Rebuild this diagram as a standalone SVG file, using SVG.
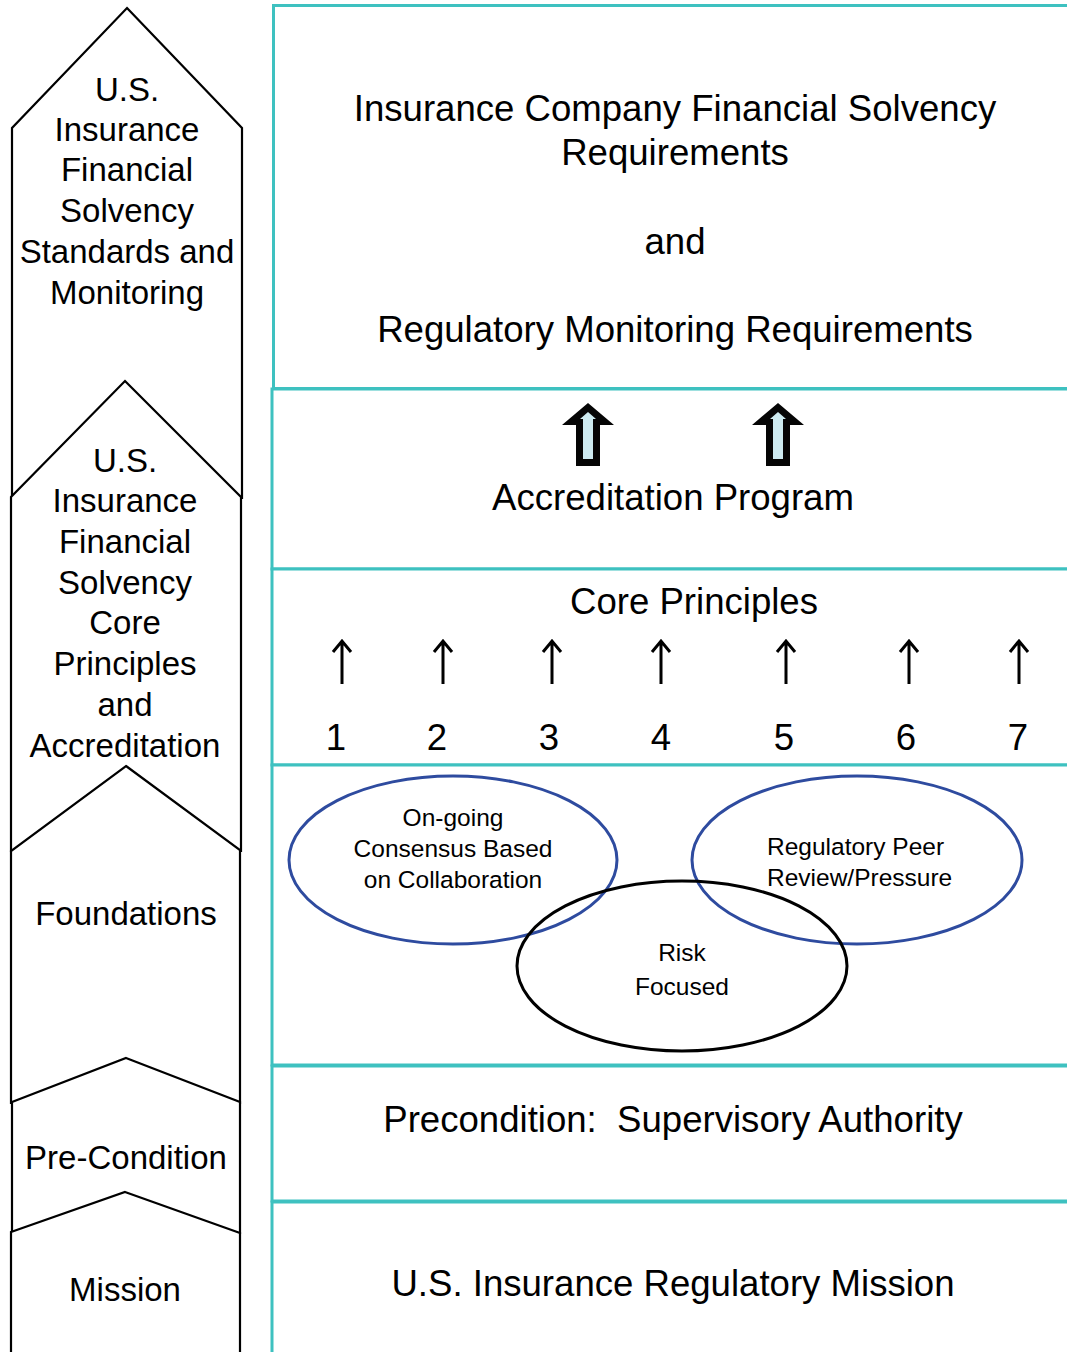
<svg xmlns="http://www.w3.org/2000/svg" width="1067" height="1352" viewBox="0 0 1067 1352">
<style>
.box{fill:#fff;stroke:#3EC1C0;stroke-width:3}
.chev{fill:#fff;stroke:#000;stroke-width:2.2;stroke-linejoin:miter}
.lt{font-family:"Liberation Sans",Arial,sans-serif;font-size:33px;fill:#000;text-anchor:middle}
.rt{font-family:"Liberation Sans",Arial,sans-serif;font-size:36.6px;fill:#000;text-anchor:middle;white-space:pre}
.et{font-family:"Liberation Sans",Arial,sans-serif;font-size:24.5px;fill:#000;text-anchor:middle}
.es{font-family:"Liberation Sans",Arial,sans-serif;font-size:24.5px;fill:#000;text-anchor:start}
.up{fill:none;stroke:#000;stroke-width:3}
.blue{fill:none;stroke:#2E4B9F;stroke-width:3}
.blk{fill:none;stroke:#000;stroke-width:3}
</style>
<rect width="1067" height="1352" fill="#fff"/>
<g id="right-panels">
<g id="box-requirements"><rect class="box" x="273.5" y="5.5" width="900" height="383"/>
<text class="rt" x="675" y="121">Insurance Company Financial Solvency</text>
<text class="rt" x="675" y="165">Requirements</text>
<text class="rt" x="675" y="254">and</text>
<text class="rt" x="675" y="342">Regulatory Monitoring Requirements</text></g>
<g id="box-accreditation"><rect class="box" x="272" y="389" width="900" height="180"/>
<path d="M588,403 L614,425 L600,425 L600,466 L576,466 L576,425 L562,425 Z" fill="#050505"/>
<path d="M588,412 L596,419 L593,419 L593,459 L583,459 L583,419 L580,419 Z" fill="#CDEAF0"/>
<path d="M778,403 L804,425 L790,425 L790,466 L766,466 L766,425 L752,425 Z" fill="#050505"/>
<path d="M778,412 L786,419 L783,419 L783,459 L773,459 L773,419 L770,419 Z" fill="#CDEAF0"/>
<text class="rt" x="673" y="510">Accreditation Program</text></g>
<g id="box-core"><rect class="box" x="272" y="569" width="900" height="196"/>
<text class="rt" x="694" y="614">Core Principles</text>
<g class="up">
<path d="M342,684 V641 M333,652 L342,641 L351,652"/>
<path d="M443,684 V641 M434,652 L443,641 L452,652"/>
<path d="M552,684 V641 M543,652 L552,641 L561,652"/>
<path d="M661,684 V641 M652,652 L661,641 L670,652"/>
<path d="M786,684 V641 M777,652 L786,641 L795,652"/>
<path d="M909,684 V641 M900,652 L909,641 L918,652"/>
<path d="M1019,684 V641 M1010,652 L1019,641 L1028,652"/>
</g>
<text class="rt" x="336" y="750">1</text>
<text class="rt" x="437" y="750">2</text>
<text class="rt" x="549" y="750">3</text>
<text class="rt" x="661" y="750">4</text>
<text class="rt" x="784" y="750">5</text>
<text class="rt" x="906" y="750">6</text>
<text class="rt" x="1018" y="750">7</text></g>
<g id="box-foundations"><rect class="box" x="272" y="765" width="900" height="300"/>
<ellipse class="blue" cx="453" cy="860" rx="164" ry="84"/>
<ellipse class="blue" cx="857" cy="860" rx="165" ry="84"/>
<ellipse class="blk" cx="682" cy="966" rx="165" ry="85"/>
<text class="et" x="453" y="826">On-going</text>
<text class="et" x="453" y="857">Consensus Based</text>
<text class="et" x="453" y="888">on Collaboration</text>
<text class="es" x="767" y="855">Regulatory Peer</text>
<text class="es" x="767" y="886">Review/Pressure</text>
<text class="et" x="682" y="961">Risk</text>
<text class="et" x="682" y="995">Focused</text></g>
<g id="box-precondition"><rect class="box" x="272" y="1066" width="900" height="135"/>
<text class="rt" x="673" y="1132" xml:space="preserve">Precondition:  Supervisory Authority</text></g>
<g id="box-mission"><rect class="box" x="272" y="1202" width="900" height="200"/>
<text class="rt" x="673" y="1296">U.S. Insurance Regulatory Mission</text></g>
</g>
<g id="left-chevrons">
<g id="chev-standards"><path class="chev" d="M127,8 L242,128 L242,498 L12,498 L12,128 Z"/>
<text class="lt" x="127" y="101">U.S.</text>
<text class="lt" x="127" y="141">Insurance</text>
<text class="lt" x="127" y="181">Financial</text>
<text class="lt" x="127" y="222">Solvency</text>
<text class="lt" x="127" y="263">Standards and</text>
<text class="lt" x="127" y="304">Monitoring</text></g>
<g id="chev-core"><path class="chev" d="M125,381 L241,497 L241,851 L11,851 L11,497 Z"/>
<text class="lt" x="125" y="472">U.S.</text>
<text class="lt" x="125" y="512">Insurance</text>
<text class="lt" x="125" y="553">Financial</text>
<text class="lt" x="125" y="594">Solvency</text>
<text class="lt" x="125" y="634">Core</text>
<text class="lt" x="125" y="675">Principles</text>
<text class="lt" x="125" y="716">and</text>
<text class="lt" x="125" y="757">Accreditation</text></g>
<g id="chev-foundations"><path class="chev" d="M126,766 L240,850 L240,1103 L11,1103 L11,851 Z"/>
<text class="lt" x="126" y="925">Foundations</text></g>
<g id="chev-precondition"><path class="chev" d="M126,1058 L240,1102 L240,1233 L12,1233 L12,1102 Z"/>
<text class="lt" x="126" y="1169">Pre-Condition</text></g>
<g id="chev-mission"><path class="chev" d="M125,1192 L240,1233 L240,1360 L11,1360 L11,1232 Z"/>
<text class="lt" x="125" y="1301">Mission</text></g>
</g>
</svg>
